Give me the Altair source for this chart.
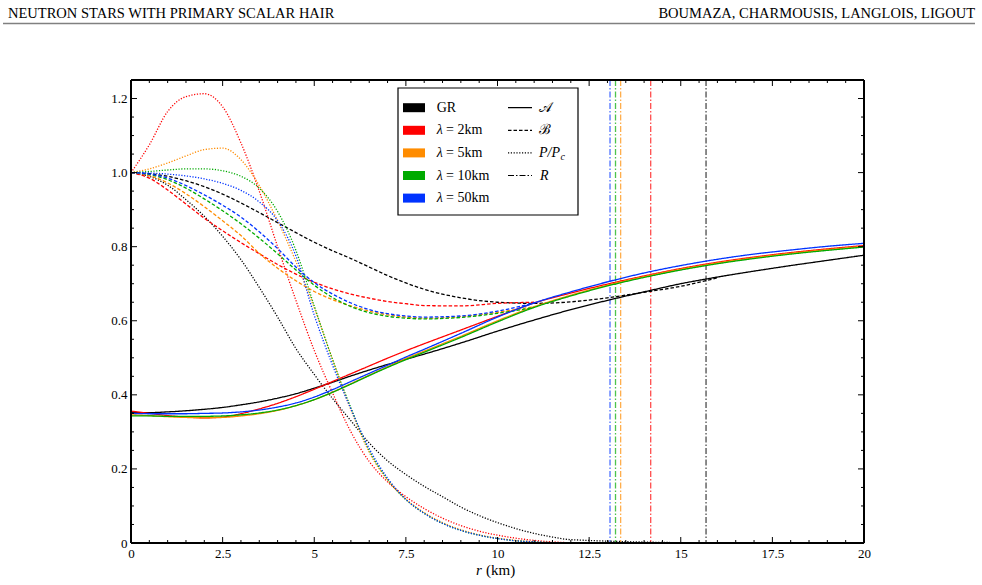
import altair as alt
import pandas as pd

# ---------------- data ----------------
SERIES = ["GR", "l2", "l5", "l10", "l50"]
COLORS = ["#000000", "#ff0000", "#ff8c00", "#00aa00", "#0033ff"]
LAMBDAS = ["2", "5", "10", "50"]

# radius grid for A and B (km)
R_AB = [0, 0.5, 1, 1.5, 2, 2.5, 3, 3.5, 4, 4.5, 5, 5.5, 6, 6.5, 7, 7.5, 8,
        9, 10, 11, 12, 13, 14, 15, 16, 17, 18, 19, 20]

A_GR = [0.352, 0.352, 0.354, 0.357, 0.361, 0.366, 0.373, 0.381, 0.391, 0.403, 0.418,
        0.434, 0.451, 0.467, 0.482, 0.496, 0.510, 0.540, 0.572, 0.602, 0.630, 0.655,
        0.678, 0.700, 0.718, 0.734, 0.749, 0.763, 0.777]
A_L2 = [0.356, 0.350, 0.344, 0.340, 0.338, 0.340, 0.349, 0.362, 0.377, 0.395, 0.415,
        0.436, 0.457, 0.478, 0.499, 0.519, 0.538, 0.575, 0.612, 0.648, 0.675, 0.699,
        0.721, 0.741, 0.758, 0.772, 0.784, 0.794, 0.803]
A_L5 = [0.346, 0.344, 0.341, 0.339, 0.338, 0.339, 0.343, 0.349, 0.358, 0.371, 0.387,
        0.407, 0.430, 0.453, 0.476, 0.498, 0.518, 0.558, 0.600, 0.638, 0.669, 0.696,
        0.719, 0.739, 0.756, 0.770, 0.782, 0.792, 0.801]
A_L10 = [0.343, 0.343, 0.342, 0.342, 0.342, 0.343, 0.346, 0.351, 0.359, 0.371, 0.387,
         0.407, 0.429, 0.452, 0.474, 0.495, 0.515, 0.555, 0.597, 0.636, 0.667, 0.694,
         0.717, 0.737, 0.754, 0.768, 0.780, 0.790, 0.799]
A_L50 = [0.350, 0.349, 0.349, 0.349, 0.350, 0.351, 0.354, 0.359, 0.367, 0.378, 0.394,
         0.414, 0.436, 0.458, 0.480, 0.502, 0.523, 0.566, 0.610, 0.648, 0.678, 0.705,
         0.729, 0.749, 0.766, 0.780, 0.791, 0.801, 0.809]

# B (dashed), same grid, ending where it joins A
B_GR = [1.000, 0.997, 0.990, 0.978, 0.962, 0.942, 0.918, 0.892, 0.865, 0.838, 0.812,
        0.789, 0.768, 0.745, 0.722, 0.702, 0.685, 0.662, 0.650, 0.647, 0.651, 0.662,
        0.677, 0.693, 0.716]
B_L2 = [1.000, 0.985, 0.953, 0.915, 0.877, 0.843, 0.811, 0.781, 0.752, 0.726, 0.704,
        0.686, 0.672, 0.661, 0.652, 0.646, 0.641, 0.640, 0.647, 0.650]
B_L5 = [1.000, 0.992, 0.972, 0.943, 0.908, 0.870, 0.830, 0.782, 0.742, 0.708, 0.679,
        0.657, 0.640, 0.626, 0.616, 0.610, 0.607, 0.611, 0.623, 0.638]
B_L10 = [1.000, 0.995, 0.981, 0.958, 0.929, 0.897, 0.862, 0.823, 0.781, 0.737, 0.696,
         0.663, 0.638, 0.622, 0.612, 0.607, 0.605, 0.609, 0.620, 0.636]
B_L50 = [1.000, 0.996, 0.985, 0.965, 0.940, 0.912, 0.880, 0.840, 0.795, 0.745, 0.703,
         0.672, 0.648, 0.630, 0.619, 0.613, 0.610, 0.613, 0.626, 0.648]

# P/Pc (dotted)
R_P = [0, 0.5, 1, 1.5, 2, 2.5, 3, 3.5, 4, 4.5, 5, 5.5, 6, 6.5, 7, 7.5, 8,
       8.5, 9, 9.5, 10, 10.5, 11, 11.5, 12]
P_GR = [1.000, 0.990, 0.966, 0.927, 0.882, 0.828, 0.765, 0.690, 0.610, 0.525, 0.455,
        0.390, 0.330, 0.270, 0.222, 0.185, 0.153, 0.125, 0.097, 0.074, 0.055, 0.039,
        0.026, 0.016, 0.009]
P_L2 = [1.000, 1.075, 1.165, 1.205, 1.213, 1.178, 1.080, 0.950, 0.800, 0.655, 0.520,
        0.405, 0.300, 0.220, 0.165, 0.125, 0.093, 0.067, 0.047, 0.032, 0.021, 0.013,
        0.007, 0.003, 0.001]
P_L5 = [1.000, 1.010, 1.026, 1.045, 1.062, 1.066, 1.035, 0.965, 0.870, 0.760, 0.635,
        0.495, 0.360, 0.245, 0.170, 0.118, 0.082, 0.055, 0.036, 0.022, 0.013, 0.007,
        0.003, 0.001, 0.000]
P_L10 = [1.000, 1.003, 1.007, 1.010, 1.010, 1.005, 0.990, 0.958, 0.895, 0.790, 0.640,
         0.495, 0.365, 0.250, 0.172, 0.117, 0.080, 0.053, 0.034, 0.021, 0.012, 0.006,
         0.003, 0.001, 0.000]
P_L50 = [1.000, 0.999, 0.996, 0.991, 0.983, 0.971, 0.952, 0.921, 0.870, 0.775, 0.615,
         0.480, 0.362, 0.255, 0.175, 0.118, 0.080, 0.053, 0.034, 0.021, 0.012, 0.006,
         0.003, 0.001, 0.000]

# star radii R (km)
RADII = [15.69, 14.18, 13.36, 13.22, 13.07]

# axis tick values
X_MAJOR = [0, 2.5, 5, 7.5, 10, 12.5, 15, 17.5, 20]
X_MINOR = [v / 2 for v in range(0, 41) if v % 5 != 0]
Y_MAJOR = [0, 0.2, 0.4, 0.6, 0.8, 1.0, 1.2]
Y_MINOR = [v / 20 for v in range(0, 26) if v % 4 != 0]

# ---------------- build table ----------------
A_ALL = [A_GR, A_L2, A_L5, A_L10, A_L50]
B_ALL = [B_GR, B_L2, B_L5, B_L10, B_L50]
P_ALL = [P_GR, P_L2, P_L5, P_L10, P_L50]

rows = []
for s, a, b, p, rad in zip(SERIES, A_ALL, B_ALL, P_ALL, RADII):
    for r, v in zip(R_AB, a):
        rows.append({"r": r, "v": v, "s": s, "q": "A"})
    for r, v in zip(R_AB, b):
        rows.append({"r": r, "v": v, "s": s, "q": "B"})
    for r, v in zip(R_P + [rad], p + [0.0]):
        rows.append({"r": r, "v": v, "s": s, "q": "P"})
df = pd.DataFrame(rows)
df_r = pd.DataFrame({"R": RADII, "s": SERIES})

W, H = 733, 463
FONT = "Liberation Serif"

xscale = alt.Scale(domain=[0, 20], nice=False, zero=False)
yscale = alt.Scale(domain=[0, 1.25], nice=False, zero=False)
cscale = alt.Scale(domain=SERIES, range=COLORS)

XAXIS = alt.Axis(values=X_MAJOR, labelExpr="datum.value + ''", ticks=False,
                 domain=False, grid=False, labelFlush=False, labelPadding=4, title=None,
                 labelFont=FONT, labelFontSize=13, labelColor="black")
YAXIS = alt.Axis(values=Y_MAJOR,
                 labelExpr="datum.value == 0 ? '0' : format(datum.value, '.1f')",
                 ticks=False, domain=False, grid=False, labelPadding=4, title=None,
                 labelFont=FONT, labelFontSize=13, labelColor="black")

lines = alt.Chart(df).mark_line(strokeWidth=1.3, interpolate="monotone", clip=True).encode(
    x=alt.X("r:Q", scale=xscale, title=None, axis=XAXIS),
    y=alt.Y("v:Q", scale=yscale, title=None, axis=YAXIS),
    color=alt.Color("s:N", scale=cscale, legend=None),
    strokeDash=alt.StrokeDash("q:N", scale=alt.Scale(domain=["A", "B", "P"],
                                                     range=[[1, 0], [3.5, 2], [1.2, 1.6]]),
                              legend=None),
)

rlines = alt.Chart(df_r).mark_rule(strokeWidth=1.3, strokeDash=[6, 2, 1.5, 2], opacity=0.7).encode(
    x=alt.X("R:Q", scale=xscale, title=None, axis=XAXIS),
    color=alt.Color("s:N", scale=cscale, legend=None),
)

# inward ticks on all four sides
def xticks(vals, ln):
    d = pd.DataFrame({"t": vals})
    b = alt.Chart(d).mark_rule(color="black", strokeWidth=1).encode(
        x=alt.X("t:Q", scale=xscale, axis=XAXIS, title=None), y=alt.value(H), y2=alt.value(H - ln))
    t = alt.Chart(d).mark_rule(color="black", strokeWidth=1).encode(
        x=alt.X("t:Q", scale=xscale, axis=XAXIS, title=None), y=alt.value(0), y2=alt.value(ln))
    return [b, t]

def yticks(vals, ln):
    d = pd.DataFrame({"t": vals})
    l = alt.Chart(d).mark_rule(color="black", strokeWidth=1).encode(
        y=alt.Y("t:Q", scale=yscale, axis=YAXIS, title=None), x=alt.value(0), x2=alt.value(ln))
    r = alt.Chart(d).mark_rule(color="black", strokeWidth=1).encode(
        y=alt.Y("t:Q", scale=yscale, axis=YAXIS, title=None), x=alt.value(W), x2=alt.value(W - ln))
    return [l, r]

ticks = xticks(X_MAJOR, 6) + xticks(X_MINOR, 3) + yticks(Y_MAJOR, 6) + yticks(Y_MINOR, 3)

one = pd.DataFrame({"k": [0]})

def rect(x1, x2, y1, y2, **kw):
    return alt.Chart(one).mark_rect(**kw).encode(
        x=alt.value(x1), x2=alt.value(x2), y=alt.value(y1), y2=alt.value(y2))

def text(x, y, s, **kw):
    base = dict(font=FONT, fontSize=14, align="left", baseline="middle", color="black")
    base.update(kw)
    return alt.Chart(one).mark_text(text=s, **base).encode(x=alt.value(x), y=alt.value(y))

def hline(x1, x2, y, **kw):
    return alt.Chart(one).mark_rule(**kw).encode(x=alt.value(x1), x2=alt.value(x2), y=alt.value(y))

# legend
leg = [rect(267, 447, 8, 135, fill="white", stroke="black", strokeWidth=1.2)]
row_y = [27.7 + i * 22.6 for i in range(5)]
for i, c in enumerate(COLORS):
    leg.append(rect(272, 294, row_y[i] - 4.5, row_y[i] + 4.5, fill=c))
leg.append(text(305.7, row_y[0], "GR"))
for i, lam in enumerate(LAMBDAS):
    leg.append(text(305.7, row_y[i + 1], "λ", fontStyle="italic"))
    leg.append(text(315, row_y[i + 1], "= " + lam + "km"))
dashes = [[1, 0], [3.5, 2], [1.2, 1.6], [6, 2, 1.5, 2]]
for i, dsh in enumerate(dashes):
    leg.append(hline(377, 401, row_y[i], color="black", strokeWidth=1.2, strokeDash=dsh))
leg.append(text(408, row_y[0], "𝒜", font="DejaVu Serif, " + FONT, fontSize=14))
leg.append(text(408, row_y[1], "ℬ", font="DejaVu Serif, " + FONT, fontSize=14))
leg.append(text(408, row_y[2], "P/P", fontStyle="italic"))
leg.append(text(429.5, row_y[2] + 4, "c", fontStyle="italic", fontSize=10))
leg.append(text(409, row_y[3], "R", fontStyle="italic"))

# axis title and page header
extra = [
    text(348, 490, "r", fontStyle="italic", align="center", fontSize=15),
    text(355, 490, "(km)", fontSize=15),
    text(-123, -66, "NEUTRON STARS WITH PRIMARY SCALAR HAIR", fontSize=14.5),
    text(844, -66, "BOUMAZA, CHARMOUSIS, LANGLOIS, LIGOUT", fontSize=14.5, align="right"),
    hline(-128, 844, -56.5, color="#808080", strokeWidth=1.6),
    # thick frame
    hline(0, W, H, color="black", strokeWidth=2),
    hline(0, W, 0, color="black", strokeWidth=2),
    alt.Chart(one).mark_rule(color="black", strokeWidth=2).encode(
        x=alt.value(0), y=alt.value(0), y2=alt.value(H)),
    alt.Chart(one).mark_rule(color="black", strokeWidth=2).encode(
        x=alt.value(W), y=alt.value(0), y2=alt.value(H)),
]

chart = alt.layer(rlines, lines, *ticks, *leg, *extra).properties(
    width=W, height=H,
    autosize=alt.AutoSizeParams(type="none"),
    padding={"left": 131, "top": 80, "right": 118, "bottom": 42},
).configure_view(stroke=None).configure(background="white")

chart.save("out.html", embed_options={"renderer": "svg", "actions": False})
